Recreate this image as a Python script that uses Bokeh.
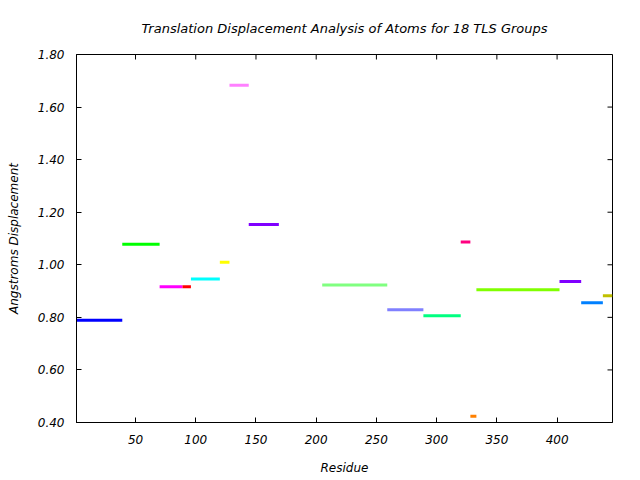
import math
from bokeh.plotting import figure
from bokeh.models import ColumnDataSource, FixedTicker, LinearAxis, Range1d, NumeralTickFormatter
from bokeh.embed import file_html
from bokeh.resources import INLINE

# TLS group data (residue ranges and translation displacement)
start_res = [1, 39, 70, 89, 96, 120, 128, 144, 205, 259, 289, 320, 328, 333, 402, 420, 438]
end_res = [39, 70, 89, 96, 120, 128, 144, 169, 259, 289, 320, 328, 333, 402, 420, 438, 446]
displacement = [0.789, 1.078, 0.916, 0.916, 0.946, 1.010, 1.683, 1.153, 0.923,
                0.829, 0.806, 1.087, 0.424, 0.905, 0.936, 0.856, 0.882]
colors = ["#0000ff", "#00ff00", "#ff00ff", "#ff0000", "#00ffff", "#ffff00",
          "#ff80ff", "#8000ff", "#80ff80", "#8080ff", "#00ff80", "#ff0080",
          "#ff8000", "#80ff00", "#8000ff", "#0080ff", "#c0c000"]
x_ticks = [50, 100, 150, 200, 250, 300, 350, 400]
y_ticks = [0.4, 0.6, 0.8, 1.0, 1.2, 1.4, 1.6, 1.8]
x_min, x_max = 1, 446
y_min, y_max = 0.4, 1.8
title_text = "Translation Displacement Analysis of Atoms for 18 TLS Groups"

FONT = "DejaVu Sans"
FS = "12px"

src = ColumnDataSource(dict(x0=start_res, x1=end_res, y=displacement, c=colors))

p = figure(width=640, height=480, output_backend="svg", toolbar_location=None,
           x_range=Range1d(x_min, x_max), y_range=Range1d(y_min, y_max),
           min_border_left=76, min_border_right=28, min_border_top=54, min_border_bottom=58,
           x_axis_location=None, y_axis_location=None)

p.segment(x0="x0", y0="y", x1="x1", y1="y", source=src, line_color="c",
          line_width=3, line_cap="butt")

# mirrored inward ticks on top and right borders
p.ray(x=x_ticks, y=[y_max] * len(x_ticks), length=5, length_units="screen",
      angle=-math.pi / 2, line_color="black", line_width=1)
p.ray(x=[x_max] * len(y_ticks), y=y_ticks, length=5, length_units="screen",
      angle=math.pi, line_color="black", line_width=1)

p.xgrid.visible = False
p.ygrid.visible = False
p.outline_line_color = "black"
p.outline_line_width = 1
p.background_fill_color = "white"
p.border_fill_color = "white"

def style(ax):
    ax.major_tick_in = 5
    ax.major_tick_out = 0
    ax.minor_tick_line_color = None
    ax.axis_line_color = "black"
    ax.major_tick_line_color = "black"
    ax.major_label_text_font = FONT
    ax.major_label_text_font_style = "italic"
    ax.major_label_text_color = "black"
    ax.major_label_text_font_size = FS
    ax.axis_label_text_font = FONT
    ax.axis_label_text_font_style = "italic"
    ax.axis_label_text_font_size = FS
    ax.axis_label_text_color = "black"

xb = LinearAxis(ticker=FixedTicker(ticks=x_ticks), axis_label="Residue")
style(xb)
xb.major_label_standoff = 12
xb.axis_label_standoff = 14
p.add_layout(xb, "below")

yl = LinearAxis(ticker=FixedTicker(ticks=y_ticks), axis_label="Angstroms Displacement",
                formatter=NumeralTickFormatter(format="0.00"))
style(yl)
yl.major_label_standoff = 12
yl.axis_label_standoff = 14
p.add_layout(yl, "left")

p.title.text = title_text
p.title.text_font = FONT
p.title.text_font_style = "italic"
p.title.text_font_size = "13px"
p.title.align = "center"
p.title.text_color = "black"
p.title.standoff = 37

open("out.html", "w").write(file_html(p, INLINE))
